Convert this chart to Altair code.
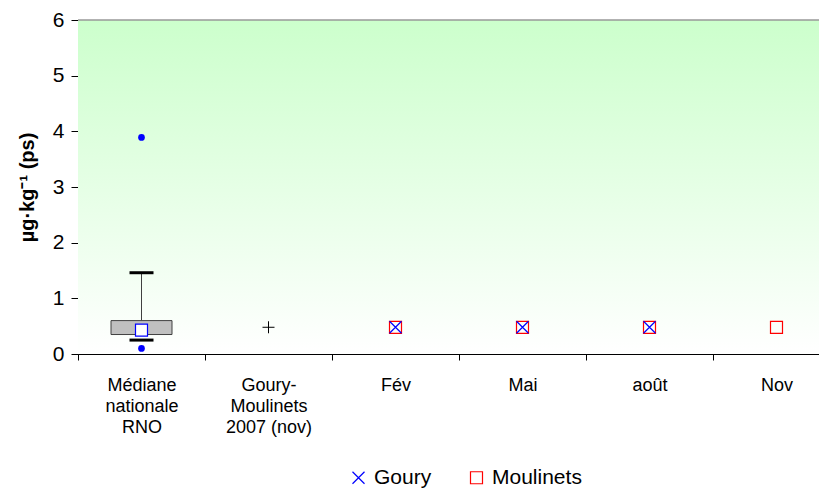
import altair as alt
import pandas as pd

categories = ["Médiane\nnationale\nRNO", "Goury-\nMoulinets\n2007 (nov)", "Fév", "Mai", "août", "Nov"]

# box plot (national median RNO)
box_q1 = 0.35
box_q3 = 0.60
box_median = 0.43
whisker_low = 0.25
whisker_high = 1.46
outliers = [3.89, 0.10]

# Goury-Moulinets 2007 (nov)
ref_2007 = 0.48

# campaign values
goury = [None, None, 0.48, 0.48, 0.48, None]
moulinets = [None, None, 0.48, 0.48, 0.48, 0.48]

W, H = 741, 334
FULL_W = 762
FONT = "Liberation Sans"

xscale = alt.Scale(domain=categories, range=[0, FULL_W], paddingInner=0, paddingOuter=0)
yscale = alt.Scale(domain=[0, 6], nice=False, zero=True)

x_enc = alt.X("cat:N", scale=xscale, sort=categories,
              axis=alt.Axis(title=None, labelExpr="split(datum.label, '\\n')", labelAngle=0,
                            tickBand="extent", tickSize=6, labelFontSize=18, labelLineHeight=21,
                            labelPadding=16, domainColor="black", tickColor="black",
                            labelColor="black", labelFont=FONT, grid=False))
y_axis = alt.Axis(title="µg·kg⁻¹ (ps)", values=[0, 1, 2, 3, 4, 5, 6], tickSize=7,
                  labelFontSize=21, labelFont=FONT, labelPadding=7, titleFont=FONT,
                  titleFontSize=20, titleFontWeight="bold", titlePadding=15,
                  domainColor="black", tickColor="black", labelColor="black",
                  titleColor="black", grid=False)

# background gradient
bg = alt.Chart(pd.DataFrame({"a": [0]})).mark_rect(
    fill=alt.Gradient(gradient="linear",
                      stops=[alt.GradientStop(color="#ccffcc", offset=0),
                             alt.GradientStop(color="#ffffff", offset=1)],
                      x1=0, x2=0, y1=0, y2=1)
).encode(x=alt.value(0), x2=alt.value(W), y=alt.value(0), y2=alt.value(H))

top_line = alt.Chart(pd.DataFrame({"a": [0]})).mark_rule(color="#999999", strokeWidth=1.5).encode(
    x=alt.value(0), x2=alt.value(W), y=alt.value(0))

box_df = pd.DataFrame({"cat": [categories[0]], "q1": [box_q1], "q3": [box_q3],
                       "lo": [whisker_low], "hi": [whisker_high], "med": [box_median]})

whisk = alt.Chart(box_df).mark_rule(color="#404040", strokeWidth=1).encode(
    x=x_enc, y=alt.Y("q3:Q", scale=yscale, axis=y_axis), y2="hi:Q")
box = alt.Chart(box_df).mark_bar(size=61, color="#c0c0c0", stroke="#404040", strokeWidth=1).encode(
    x=x_enc, y=alt.Y("q1:Q", scale=yscale, axis=y_axis), y2="q3:Q")
cap_hi = alt.Chart(box_df).mark_tick(size=24, thickness=3, color="black", opacity=1).encode(
    x=x_enc, y=alt.Y("hi:Q", scale=yscale, axis=y_axis))
cap_lo = alt.Chart(box_df).mark_tick(size=24, thickness=3, color="black", opacity=1).encode(
    x=x_enc, y=alt.Y("lo:Q", scale=yscale, axis=y_axis))
med = alt.Chart(box_df).mark_point(shape="square", size=144, filled=True, fill="white",
                                   stroke="#0000ff", strokeWidth=1.2, opacity=1).encode(
    x=x_enc, y=alt.Y("med:Q", scale=yscale, axis=y_axis))

out_df = pd.DataFrame({"cat": [categories[0]] * len(outliers), "v": outliers})
outl = alt.Chart(out_df).mark_circle(size=45, color="#0000ff", opacity=1).encode(
    x=x_enc, y=alt.Y("v:Q", scale=yscale, axis=y_axis))

plus_path = "M-1,0L1,0M0,-1L0,1"
x_path = "M-1,-1L1,1M-1,1L1,-1"

ref_df = pd.DataFrame({"cat": [categories[1]], "v": [ref_2007]})
plus = alt.Chart(ref_df).mark_point(shape=plus_path, size=144, color="black", strokeWidth=1,
                                    opacity=1).encode(
    x=x_enc, y=alt.Y("v:Q", scale=yscale, axis=y_axis))

rows = []
for c, v in zip(categories, moulinets):
    if v is not None:
        rows.append({"cat": c, "v": v, "series": "Moulinets"})
for c, v in zip(categories, goury):
    if v is not None:
        rows.append({"cat": c, "v": v, "series": "Goury"})
ser_df = pd.DataFrame(rows)

series = alt.Chart(ser_df).mark_point(size=144, filled=False, strokeWidth=1.2, opacity=1).encode(
    x=x_enc, y=alt.Y("v:Q", scale=yscale, axis=y_axis),
    color=alt.Color("series:N", scale=alt.Scale(domain=["Goury", "Moulinets"],
                                                 range=["#0000ff", "#ff0000"]),
                    legend=alt.Legend(title=None, orient="none", direction="horizontal",
                                      legendX=270, legendY=447, labelFontSize=21,
                                      labelFont=FONT, labelColor="black", symbolSize=144,
                                      symbolStrokeWidth=1.2, columnPadding=34, labelOffset=5,
                                      padding=0)),
    shape=alt.Shape("series:N", scale=alt.Scale(domain=["Goury", "Moulinets"],
                                                 range=[x_path, "square"]),
                    legend=None),
)

chart = alt.layer(bg, top_line, whisk, box, cap_hi, cap_lo, med, outl, plus, series).properties(
    width=W, height=H,
    autosize=alt.AutoSizeParams(type="none"),
    padding={"left": 70, "top": 12, "right": 0, "bottom": 139},
).configure_view(stroke=None).configure(background="white")

chart.save("out.html", embed_options={"renderer": "svg", "actions": False})
